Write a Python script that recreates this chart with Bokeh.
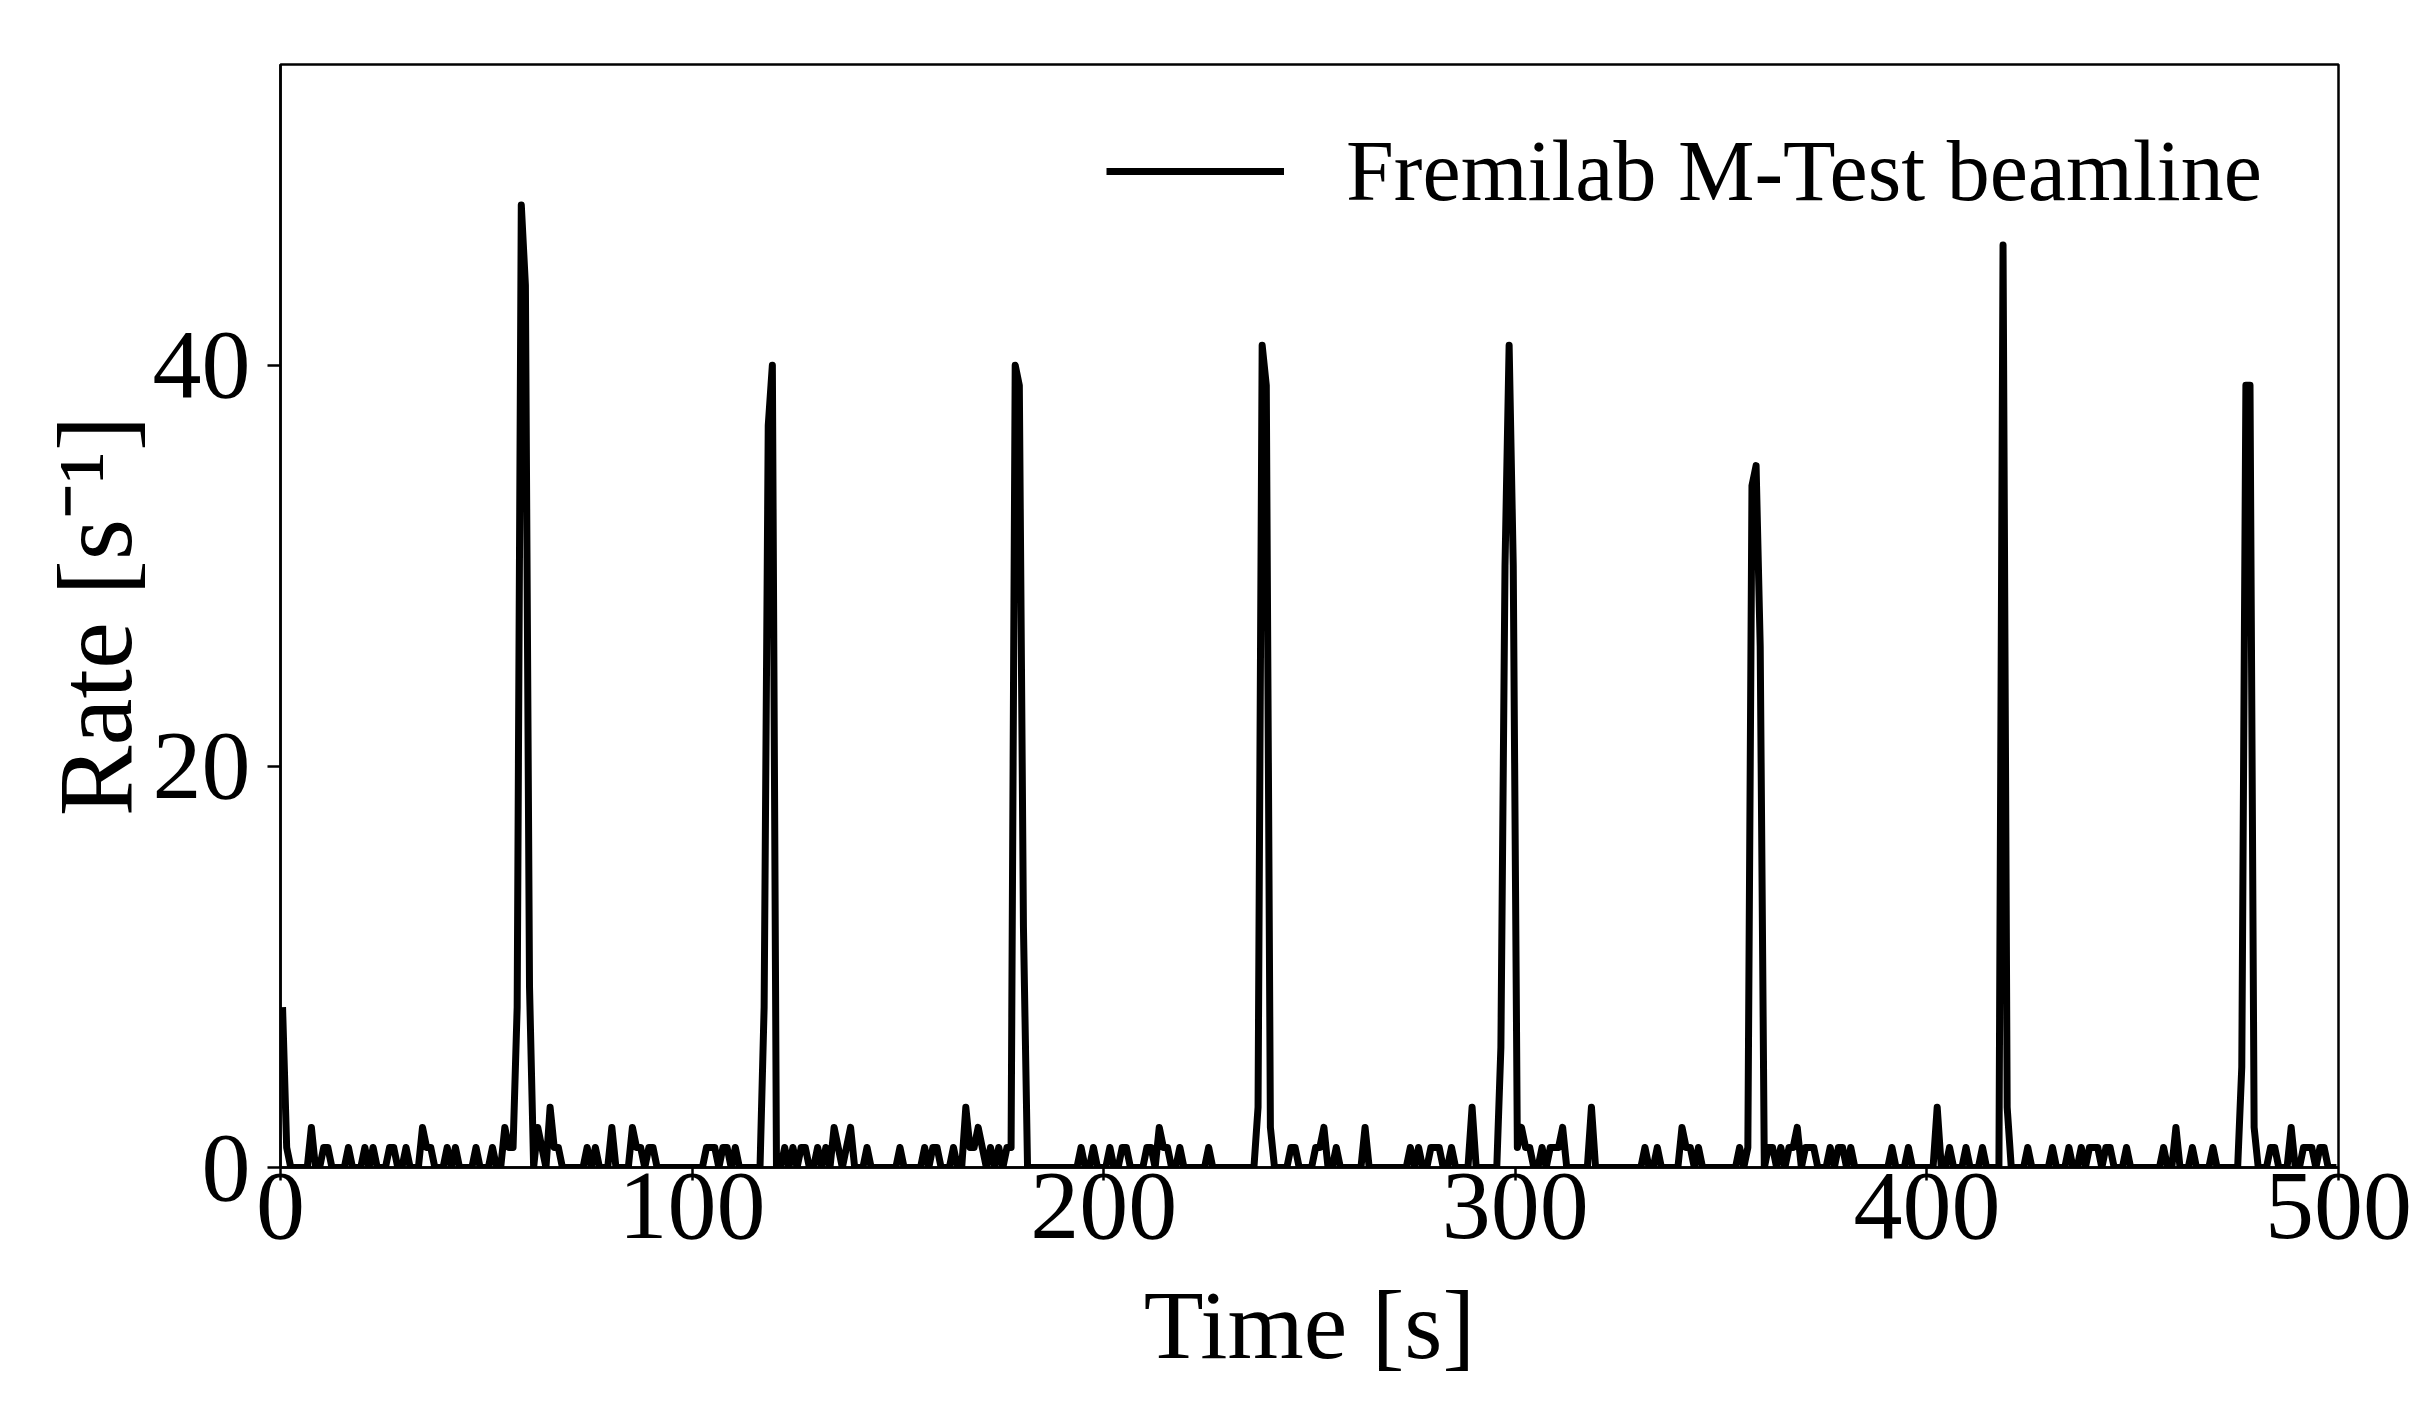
from bokeh.plotting import figure
from bokeh.models import FixedTicker, Range1d, Legend, LegendItem
from bokeh.embed import file_html
from bokeh.resources import INLINE

# Counts per 1 s bin (bin centres at 0.5, 1.5, ... 499.5 s)
rate_000_049 = [8, 1, 0, 0, 0, 0, 0, 2, 0, 0, 1, 1, 0, 0, 0, 0, 1, 0, 0, 0,
                1, 0, 1, 0, 0, 0, 1, 1, 0, 0, 1, 0, 0, 0, 2, 1, 1, 0, 0, 0,
                1, 0, 1, 0, 0, 0, 0, 1, 0, 0]
rate_050_099 = [0, 1, 0, 0, 2, 1, 1, 8, 48, 44, 9, 0, 2, 1, 0, 3, 1, 1, 0, 0,
                0, 0, 0, 0, 1, 0, 1, 0, 0, 0, 2, 0, 0, 0, 0, 2, 1, 1, 0, 1,
                1, 0, 0, 0, 0, 0, 0, 0, 0, 0]
rate_100_149 = [0, 0, 0, 1, 1, 1, 0, 1, 1, 0, 1, 0, 0, 0, 0, 0, 0, 8, 37, 40,
                0, 0, 1, 0, 1, 0, 1, 1, 0, 0, 1, 0, 1, 0, 2, 1, 0, 1, 2, 0,
                0, 0, 1, 0, 0, 0, 0, 0, 0, 0]
rate_150_199 = [1, 0, 0, 0, 0, 0, 1, 0, 1, 1, 0, 0, 0, 1, 0, 0, 3, 1, 1, 2,
                1, 0, 1, 0, 1, 0, 1, 1, 40, 39, 12, 0, 0, 0, 0, 0, 0, 0, 0, 0,
                0, 0, 0, 0, 1, 0, 0, 1, 0, 0]
rate_200_249 = [0, 1, 0, 0, 1, 1, 0, 0, 0, 0, 1, 1, 0, 2, 1, 1, 0, 0, 1, 0,
                0, 0, 0, 0, 0, 1, 0, 0, 0, 0, 0, 0, 0, 0, 0, 0, 0, 3, 41, 39,
                2, 0, 0, 0, 0, 1, 1, 0, 0, 0]
rate_250_299 = [0, 1, 1, 2, 0, 0, 1, 0, 0, 0, 0, 0, 0, 2, 0, 0, 0, 0, 0, 0,
                0, 0, 0, 0, 1, 0, 1, 0, 0, 1, 1, 1, 0, 0, 1, 0, 0, 0, 0, 3,
                0, 0, 0, 0, 0, 0, 6, 30, 41, 30]
rate_300_349 = [1, 2, 1, 1, 0, 0, 1, 0, 1, 1, 1, 2, 0, 0, 0, 0, 0, 0, 3, 0,
                0, 0, 0, 0, 0, 0, 0, 0, 0, 0, 0, 1, 0, 0, 1, 0, 0, 0, 0, 0,
                2, 1, 1, 0, 1, 0, 0, 0, 0, 0]
rate_350_399 = [0, 0, 0, 0, 1, 0, 1, 34, 35, 26, 0, 1, 1, 0, 1, 0, 1, 1, 2, 0,
                1, 1, 1, 0, 0, 0, 1, 0, 1, 1, 0, 1, 0, 0, 0, 0, 0, 0, 0, 0,
                0, 1, 0, 0, 0, 1, 0, 0, 0, 0]
rate_400_449 = [0, 0, 3, 0, 0, 1, 0, 0, 0, 1, 0, 0, 0, 1, 0, 0, 0, 0, 46, 3,
                0, 0, 0, 0, 1, 0, 0, 0, 0, 0, 1, 0, 0, 0, 1, 0, 0, 1, 0, 1,
                1, 1, 0, 1, 1, 0, 0, 0, 1, 0]
rate_450_499 = [0, 0, 0, 0, 0, 0, 0, 1, 0, 0, 2, 0, 0, 0, 1, 0, 0, 0, 0, 1,
                0, 0, 0, 0, 0, 0, 5, 39, 39, 2, 0, 0, 0, 1, 1, 0, 0, 0, 2, 0,
                0, 1, 1, 1, 0, 1, 1, 0, 0, 0]

rate = (rate_000_049 + rate_050_099 + rate_100_149 + rate_150_199 + rate_200_249 +
        rate_250_299 + rate_300_349 + rate_350_399 + rate_400_449 + rate_450_499)
time = [i + 0.5 for i in range(len(rate))]

x_ticks = [0, 100, 200, 300, 400, 500]
y_ticks = [0, 20, 40]
legend_label = "Fremilab M-Test beamline"
x_label = "Time [s]"
y_label = "Rate [s\u207b\u00b9]"

FONT = "Liberation Serif"

p = figure(width=2420, height=1392, output_backend="svg", toolbar_location=None,
           x_range=Range1d(0, 500), y_range=Range1d(0, 55),
           min_border_left=280, min_border_right=82, min_border_top=64,
           min_border_bottom=225, background_fill_color="white",
           border_fill_color="white")
p.xgrid.visible = False
p.ygrid.visible = False

r = p.line(time, rate, line_color="black", line_width=7, line_join="round")

p.outline_line_color = "black"
p.outline_line_width = 2.5

for ax in (p.xaxis[0], p.yaxis[0]):
    ax.axis_line_color = "black"
    ax.axis_line_width = 2.5
    ax.major_tick_line_color = "black"
    ax.major_tick_line_width = 2.5
    ax.major_tick_out = 13
    ax.major_tick_in = 0
    ax.minor_tick_line_color = None
    ax.major_label_text_font = FONT
    ax.major_label_text_font_size = "98px"
    ax.major_label_text_color = "black"
    ax.axis_label_text_font = FONT
    ax.axis_label_text_font_style = "normal"
    ax.axis_label_text_color = "black"

p.xaxis[0].axis_label_text_font_size = "98px"
p.yaxis[0].axis_label_text_font_size = "106px"
p.xaxis[0].ticker = FixedTicker(ticks=x_ticks)
p.yaxis[0].ticker = FixedTicker(ticks=y_ticks)
p.xaxis[0].axis_label = x_label
p.yaxis[0].axis_label = y_label
p.xaxis[0].major_label_standoff = -7
p.xaxis[0].axis_label_standoff = 30
p.yaxis[0].major_label_standoff = 17
p.yaxis[0].axis_label_standoff = -4

legend = Legend(items=[LegendItem(label=legend_label, renderers=[r])],
                location="top_right", margin=57, padding=0,
                glyph_width=178, glyph_height=68, label_standoff=62,
                label_width=935,
                label_text_font=FONT, label_text_font_size="86px",
                label_text_color="black", border_line_alpha=0,
                background_fill_alpha=0)
p.add_layout(legend)

open("out.html", "w").write(file_html(p, INLINE))
